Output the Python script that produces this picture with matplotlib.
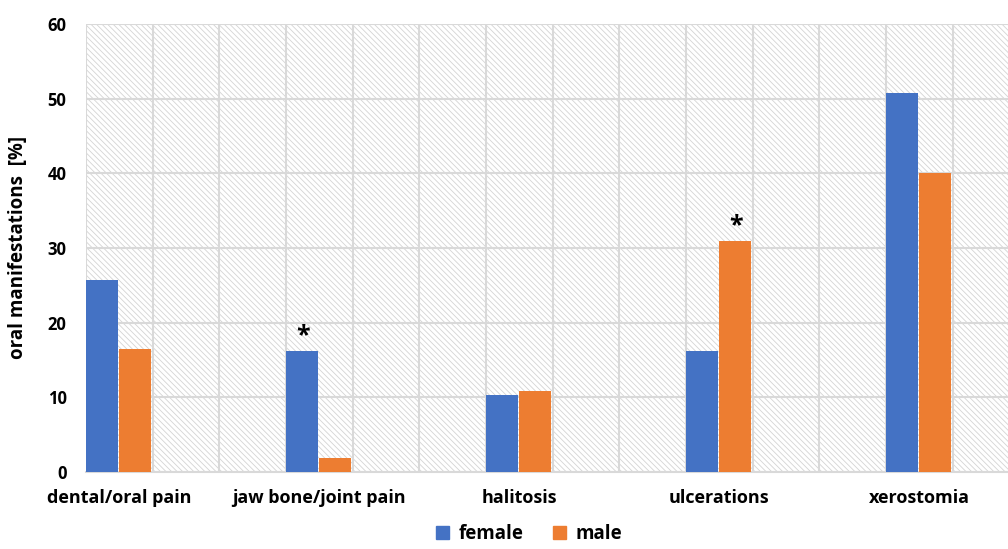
import numpy as np
import matplotlib.pyplot as plt
from matplotlib.patches import Rectangle, Patch

# oral manifestations by sex
categories = ['dental/oral pain', 'jaw bone/joint pain', 'halitosis', 'ulcerations', 'xerostomia']
female = [25.7, 16.2, 10.3, 16.2, 50.8]
male = [16.5, 1.9, 10.8, 30.9, 40.0]
# significance markers: (category index, series)
stars = [(1, 'female'), (3, 'male')]

blue = '#4472c4'
orange = '#ed7d31'
grid_col = '#d9d9d9'

plt.rcParams['font.family'] = ['Open Sans', 'DejaVu Sans']
plt.rcParams['hatch.linewidth'] = 0.6
plt.rcParams['hatch.color'] = '#d4d4d4'

fig = plt.figure(figsize=(10.08, 5.49), dpi=100)
ax = fig.add_axes([0.0853, 0.1403, 0.9147, 0.816])

w = 1 / 6
x = np.arange(len(categories))

# hatched plot background
ax.add_patch(Rectangle((0, 0), 1, 1, transform=ax.transAxes, facecolor='white',
                       edgecolor='#d4d4d4', hatch='\\' * 6, linewidth=0, zorder=0))

ax.bar(x, female, width=w * 0.95, align='edge', color=blue, zorder=3)
ax.bar(x + w, male, width=w * 0.95, align='edge', color=orange, zorder=3)

for i, s in stars:
    if s == 'female':
        xs, ys = x[i] + w / 2, female[i]
    else:
        xs, ys = x[i] + w * 1.5, male[i]
    ax.text(xs, ys + 0.4, '*', ha='center', va='bottom', fontsize=18,
            fontweight='bold', zorder=4)

ax.set_xlim(0, 4.61)
ax.set_ylim(0, 60)
ax.set_yticks(range(0, 61, 10))
ax.set_xticks(np.arange(0, 4.61, 1 / 3), minor=True)
ax.set_xticks(x + w)
ax.set_xticklabels(categories, fontsize=13, fontweight='bold')
for lab in ax.get_yticklabels():
    lab.set_fontweight('bold')
    lab.set_fontsize(12)
ax.tick_params(axis='both', which='both', length=0)
ax.tick_params(axis='x', pad=12)
ax.tick_params(axis='y', pad=14)

ax.grid(axis='y', color=grid_col, linewidth=1.5, zorder=1)
ax.grid(axis='x', which='minor', color=grid_col, linewidth=1.5, zorder=1)
ax.grid(axis='x', which='major', visible=False)
ax.set_axisbelow(True)

for sp in ['top', 'right', 'left']:
    ax.spines[sp].set_visible(False)
ax.spines['bottom'].set_color(grid_col)
ax.spines['bottom'].set_linewidth(1.5)

ax.set_ylabel('oral manifestations  [%]', fontsize=13.5, fontweight='bold', labelpad=14)

handles = [Patch(color=blue, label='female'), Patch(color=orange, label='male')]
fig.legend(handles=handles, loc='lower center', ncol=2, frameon=False,
           bbox_to_anchor=(0.525, -0.022), prop={'weight': 'bold', 'size': 13.5},
           handlelength=0.7, handleheight=0.7, columnspacing=1.6, handletextpad=0.5)

fig.savefig('out.png', dpi=100)
